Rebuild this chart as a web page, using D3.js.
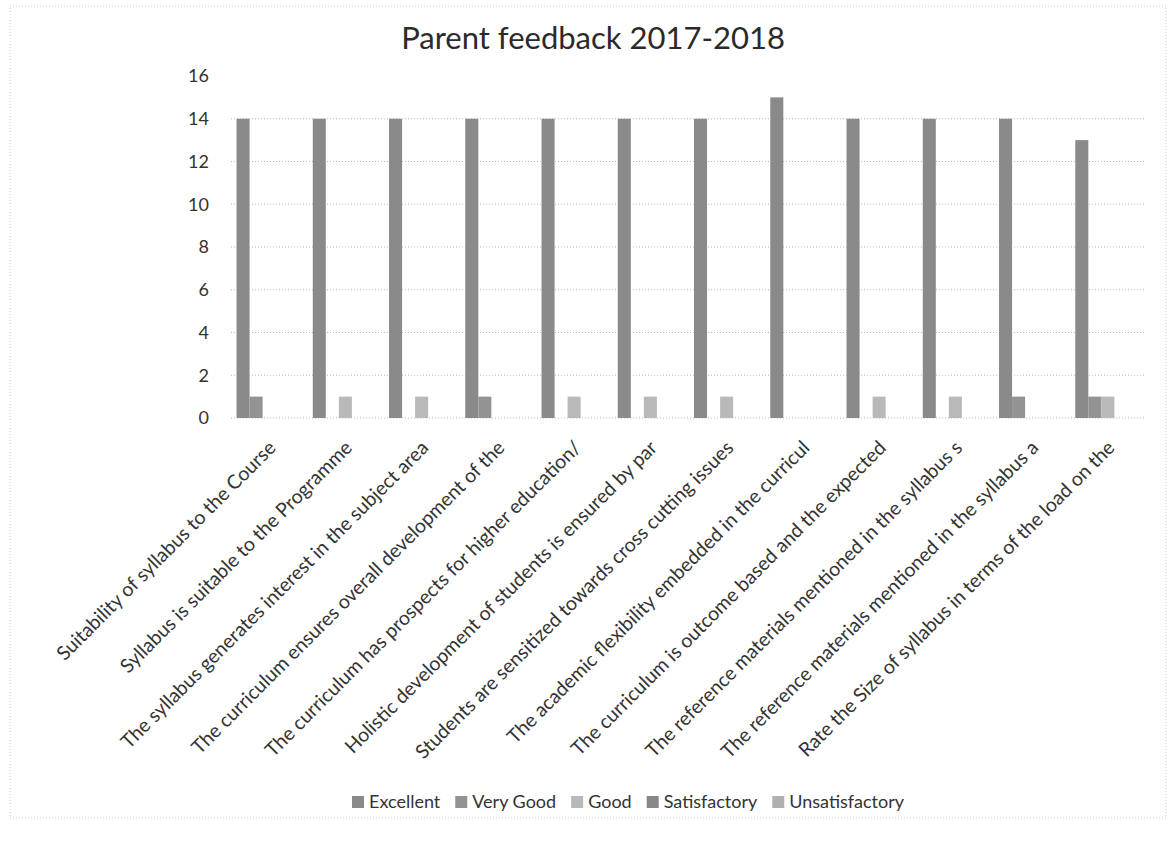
<!DOCTYPE html>
<html>
<head>
<meta charset="utf-8">
<script src="https://cdn.jsdelivr.net/npm/d3@7"></script>
<style>
  body { margin: 0; background: white; }
  text { font-family: Lato, 'Open Sans', sans-serif; fill: #333; }
</style>
</head>
<body>
<main></main>
<script>
const categories = [
  'Suitability of syllabus to the Course',
  'Syllabus is suitable to the Programme',
  'The syllabus generates interest in the subject area',
  'The curriculum ensures overall development of the',
  'The curriculum has prospects for higher education/',
  'Holistic development of students  is ensured by par',
  'Students are sensitized towards cross cutting issues',
  'The  academic  flexibility embedded  in the curricul',
  'The  curriculum is outcome based and the expected',
  'The reference materials mentioned in the syllabus s',
  'The reference materials mentioned in the syllabus a',
  'Rate the Size of syllabus in terms of the load on the'
];
const seriesNames = ['Excellent', 'Very Good', 'Good', 'Satisfactory', 'Unsatisfactory'];
const excellent      = [14, 14, 14, 14, 14, 14, 14, 15, 14, 14, 14, 13];
const veryGood       = [1, 0, 0, 1, 0, 0, 0, 0, 0, 0, 1, 1];
const good           = [0, 1, 1, 0, 1, 1, 1, 0, 1, 1, 0, 1];
const satisfactory   = [0, 0, 0, 0, 0, 0, 0, 0, 0, 0, 0, 0];
const unsatisfactory = [0, 0, 0, 0, 0, 0, 0, 0, 0, 0, 0, 0];
const yTicks = [0, 2, 4, 6, 8, 10, 12, 14, 16];

const seriesValues = [excellent, veryGood, good, satisfactory, unsatisfactory];
const colors = ['#8a8a8a', '#939393', '#b9b9b9', '#888888', '#b0b0b0'];

const width = 1172;
const height = 841;
const plotLeft = 231;
const plotRight = 1146;
const plotTop = 76;
const plotBottom = 418;

const svg = d3.select('main')
  .append('svg')
  .attr('width', width)
  .attr('height', height)

// chart border
svg.append('rect')
  .attr('x', 10)
  .attr('y', 6)
  .attr('width', 1156)
  .attr('height', 812)
  .style('fill', 'none')
  .style('stroke', '#c8c8c8')
  .style('stroke-dasharray', '1,2')

// title
svg.append('text')
  .text('Parent feedback 2017-2018')
  .attr('x', 593)
  .attr('y', 49)
  .attr('text-anchor', 'middle')
  .style('font-size', '31px')
  .style('fill', '#2a2a2a')

const xScale = d3.scaleBand()
  .domain(d3.range(categories.length))
  .range([plotLeft, plotRight])
  .paddingInner(0.145)
  .paddingOuter(0.0725)

const xInner = d3.scaleBand()
  .domain(d3.range(seriesNames.length))
  .range([0, xScale.bandwidth()])

const yScale = d3.scaleLinear()
  .domain([0, 16])
  .range([plotBottom, plotTop])

// gridlines
svg.append('g')
  .selectAll('line')
  .data(yTicks)
  .enter()
  .append('line')
  .attr('x1', plotLeft)
  .attr('x2', plotRight)
  .attr('y1', d => yScale(d))
  .attr('y2', d => yScale(d))
  .style('stroke', d => d === 16 ? 'none' : '#b8b8b8')
  .style('stroke-dasharray', '1,2')

// y-axis
const yAxis = d3.axisLeft(yScale)
  .tickValues(yTicks)
  .tickSize(0)
  .tickPadding(22)

svg.append('g')
  .attr('transform', `translate(${plotLeft}, 0)`)
  .call(yAxis)
  .call(g => g.select('.domain').remove())
  .call(g => g.selectAll('text')
    .style('font-size', '18px')
    .style('font-family', 'Lato, sans-serif')
    .style('fill', '#333'))

// bars
const groups = svg.append('g')
  .selectAll('g')
  .data(categories)
  .enter()
  .append('g')
  .attr('transform', (d, i) => `translate(${xScale(i)}, 0)`)

groups.selectAll('rect')
  .data((d, i) => seriesValues.map((vals, s) => ({ s, v: vals[i] })))
  .enter()
  .append('rect')
  .attr('x', d => xInner(d.s))
  .attr('y', d => yScale(d.v))
  .attr('width', xInner.bandwidth())
  .attr('height', d => plotBottom - yScale(d.v))
  .style('fill', d => colors[d.s])

// x labels
const xAxis = d3.axisBottom(xScale)
  .tickSize(0)
  .tickFormat(i => categories[i])

svg.append('g')
  .attr('transform', `translate(0, ${plotBottom})`)
  .call(xAxis)
  .call(g => g.select('.domain').remove())
  .call(g => g.selectAll('text')
    .attr('text-anchor', 'end')
    .attr('y', 0)
    .attr('dy', 0)
    .attr('transform', 'translate(8, 31) rotate(-45)')
    .style('font-size', '19.5px')
    .style('font-family', 'Lato, sans-serif')
    .style('fill', '#333'))

// legend
const legend = svg.append('g')
  .attr('transform', 'translate(352, 802)')

let lx = 0;
seriesNames.forEach((name, i) => {
  const item = legend.append('g').attr('transform', `translate(${lx}, 0)`)
  item.append('rect')
    .attr('x', 0)
    .attr('y', -6)
    .attr('width', 12)
    .attr('height', 12)
    .style('fill', colors[i])
  const t = item.append('text')
    .text(name)
    .attr('x', 17)
    .attr('y', 6)
    .style('font-size', '18px')
  lx += 17 + t.node().getComputedTextLength() + 15;
})
</script>
</body>
</html>
